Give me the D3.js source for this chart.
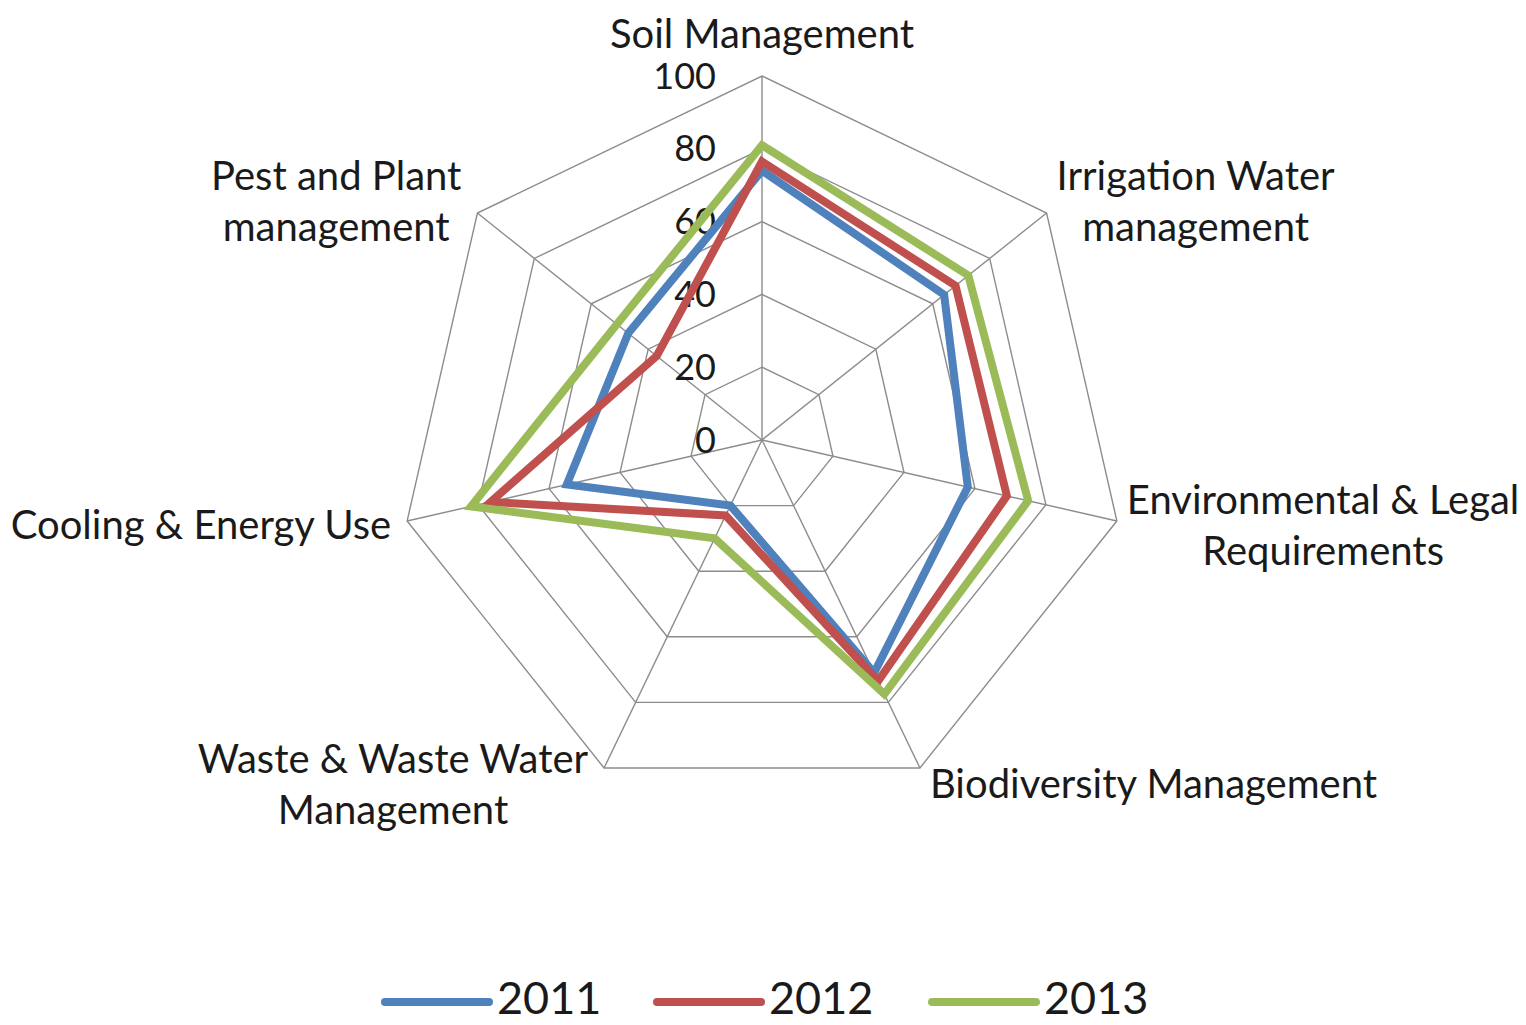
<!DOCTYPE html>
<html>
<head>
<meta charset="utf-8">
<script src="https://cdn.jsdelivr.net/npm/d3@7"></script>
<style>
  html, body { margin: 0; padding: 0; background: #fff; }
  svg text { font-family: Lato, "Open Sans", sans-serif; fill: #1a1a1a; }
</style>
</head>
<body>
<svg id="chart"></svg>
<script>
// Radar chart — three years over seven management areas

const categories = [
  ['Soil Management'],
  ['Irrigation Water', 'management'],
  ['Environmental & Legal', 'Requirements'],
  ['Biodiversity Management'],
  ['Waste & Waste Water', 'Management'],
  ['Cooling & Energy Use'],
  ['Pest and Plant', 'management']
];
const years      = ['2011', '2012', '2013'];
const values2011 = [74, 64, 58, 71, 20, 55, 47];
const values2012 = [76.5, 68, 69, 73.5, 23, 76.5, 37];
const values2013 = [81, 72.5, 75, 77.5, 30, 82, 51];
const tickValues = [0, 20, 40, 60, 80, 100];
const colors     = ['#4F81BD', '#C0504D', '#9BBB59'];

const W = 1526, H = 1025;
const cx = 762, cy = 440, R = 364;

const svg = d3.select('#chart').attr('width', W).attr('height', H);

const r = d3.scaleLinear().domain([0, 100]).range([0, R]);
const angle = d3.scaleLinear().domain([0, categories.length]).range([0, 2 * Math.PI]);

const g = svg.append('g').attr('transform', `translate(${cx},${cy})`);

// grid polygons
const ring = d3.lineRadial()
  .angle((d, i) => angle(i))
  .radius(d => r(d))
  .curve(d3.curveLinearClosed);

g.selectAll('.grid')
  .data(tickValues.filter(v => v > 0))
  .join('path').attr('class', 'grid')
  .attr('d', v => ring(categories.map(() => v)))
  .attr('fill', 'none').attr('stroke', '#8c8c8c').attr('stroke-width', 1.4);

// spokes
g.selectAll('.spoke')
  .data(categories)
  .join('line').attr('class', 'spoke')
  .attr('x1', 0).attr('y1', 0)
  .attr('x2', (d, i) => Math.sin(angle(i)) * r(100))
  .attr('y2', (d, i) => -Math.cos(angle(i)) * r(100))
  .attr('stroke', '#8c8c8c').attr('stroke-width', 1.4);

// tick labels
g.selectAll('.tick')
  .data(tickValues)
  .join('text').attr('class', 'tick')
  .attr('x', -46).attr('y', v => -r(v))
  .attr('dy', '0.35em')
  .attr('text-anchor', 'end')
  .attr('font-size', '36px')
  .text(v => v);

// series
const series = [values2011, values2012, values2013];
g.selectAll('.series')
  .data(series)
  .join('path').attr('class', 'series')
  .attr('d', vals => ring(vals))
  .attr('fill', 'none')
  .attr('stroke', (d, i) => colors[i])
  .attr('stroke-width', 8)
  .attr('stroke-linejoin', 'miter');

// category labels: lines centred inside a box placed outside the vertex
const lineH = 51;
categories.forEach((lines, i) => {
  const a = angle(i);
  const s = Math.sin(a), c = Math.cos(a);
  const vx = s * r(100), vy = -c * r(100);
  let yc;
  if (c > 0.95) {
    yc = vy - 30 - (lines.length - 1) * lineH - 12;
  } else {
    yc = vy - c * 18 - (lines.length - 1) * lineH / 2;
  }
  const t = g.append('text')
    .attr('text-anchor', 'middle')
    .attr('font-size', '40px');
  const spans = lines.map((ln, j) => t.append('tspan')
    .attr('y', yc + j * lineH)
    .attr('dy', '0.35em')
    .text(ln));
  const boxW = d3.max(spans, sp => sp.node().getComputedTextLength());
  let x = vx;
  if (s > 0.1) x = vx + 10 + boxW / 2;
  else if (s < -0.1) x = vx - 16 - boxW / 2;
  spans.forEach(sp => sp.attr('x', x));
});

// legend
const legendX = [385, 657, 932];
const legend = svg.append('g').attr('transform', 'translate(0,1002)');
years.forEach((y, i) => {
  legend.append('line')
    .attr('x1', legendX[i]).attr('x2', legendX[i] + 104)
    .attr('y1', 0).attr('y2', 0)
    .attr('stroke', colors[i]).attr('stroke-width', 8)
    .attr('stroke-linecap', 'round');
  legend.append('text')
    .attr('x', legendX[i] + 112).attr('y', 12)
    .attr('font-size', '45px')
    .text(y);
});
</script>
</body>
</html>
